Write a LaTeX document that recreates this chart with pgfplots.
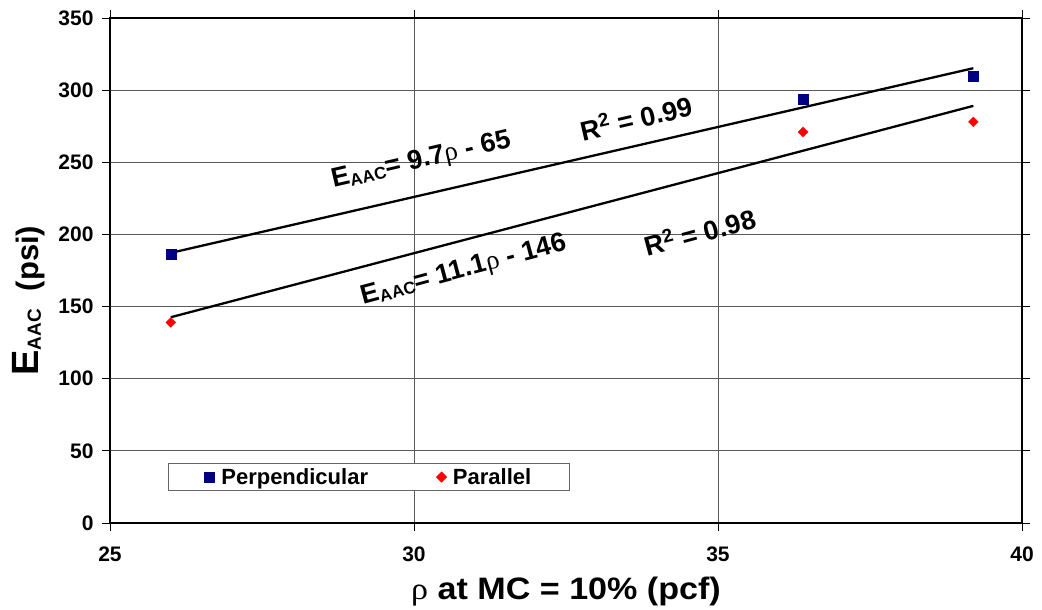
\documentclass[border=0pt]{standalone}
\usepackage{fontspec}
\setmainfont{Liberation Sans}
\newfontfamily\rhofont{Liberation Serif}
\usepackage{pgfplots}
\pgfplotsset{compat=1.18}
\definecolor{perpblue}{RGB}{0,0,128}
\definecolor{parred}{RGB}{255,0,0}
% density symbol and subscripted modulus
\newcommand{\rh}{{\rhofont\mdseries ρ}}
\newcommand{\Eaac}[1]{E\raisebox{-0.1em}{\fontsize{#1}{#1}\selectfont AAC}}
\newcommand{\tickfont}{\fontsize{21}{21}\selectfont\bfseries}

\begin{document}
\begin{tikzpicture}[x=1pt,y=1pt]
\path[use as bounding box] (-110,-87) rectangle (932,523);
\begin{axis}[
  scale only axis,
  width=912pt, height=505pt,
  xmin=25, xmax=40, ymin=0, ymax=350,
  xtick={25,30,35,40},
  ytick={0,50,...,350},
  grid=major,
  major grid style={draw=black!65, line width=0.9pt},
  axis line style={line width=2.6pt},
  tick style={black, line width=0.9pt},
  tick align=outside,
  major tick length=8pt,
  /pgf/number format/assume math mode=true,
  xticklabel={\tickfont\pgfmathprintnumber{\tick}},
  yticklabel={\tickfont\pgfmathprintnumber{\tick}},
  xticklabel style={yshift=-12pt},
  yticklabel style={xshift=-5pt},
  xlabel={\scalebox{1.1}[1]{\fontsize{31}{31}\selectfont\bfseries\rh\ at MC = 10\% (pcf)}},
  ylabel={\bfseries\fontsize{38}{38}\selectfont E\raisebox{-0.05em}{\fontsize{19}{19}\selectfont AAC}\hspace{18pt}\fontsize{31}{31}\selectfont(psi)},
  xlabel style={at={(0.5,0)}, anchor=base, yshift=-77pt},
  ylabel style={at={(0,0.44)}, anchor=center, yshift=81pt},
  legend style={
    at={(rel axis cs:0.0636,0.119)}, anchor=north west,
    draw=black!60, line width=0.9pt,
    font=\fontsize{22}{22}\selectfont\bfseries,
    legend columns=2,
    inner xsep=36pt, inner ysep=3pt,
    /tikz/every even column/.append style={column sep=66pt},
  },
  legend image code/.code={%
    \path (-5pt,0pt) (9pt,0pt);
    \draw plot coordinates {(0cm,0cm)};},
]
\addplot[only marks, mark=square*, mark size=5pt, color=perpblue]
  coordinates {(26.0,186) (36.4,294) (39.2,310)};
\addlegendentry{Perpendicular}
\addplot[only marks, mark=square*, mark size=3.5pt, mark options={rotate=45}, color=parred]
  coordinates {(26.0,139) (36.4,271) (39.2,278)};
\addlegendentry{Parallel}

% linear trendlines
\addplot[black, line width=2.3pt, forget plot]
  coordinates {(26.0,187.2) (39.2,315.2)};
\addplot[black, line width=2.3pt, forget plot]
  coordinates {(26.0,142.6) (39.2,289.1)};

\node[rotate=13, font=\fontsize{27}{27}\selectfont\bfseries]
  at (axis cs:30.12,251) {\Eaac{17}= 9.7\rh\ - 65};
\node[rotate=13, font=\fontsize{27}{27}\selectfont\bfseries]
  at (axis cs:33.65,281) {R\textsuperscript{2} = 0.99};
\node[rotate=15, font=\fontsize{27}{27}\selectfont\bfseries]
  at (axis cs:30.82,175) {\Eaac{17}= 11.1\rh\ - 146};
\node[rotate=15, font=\fontsize{27}{27}\selectfont\bfseries]
  at (axis cs:34.70,202) {R\textsuperscript{2} = 0.98};
\end{axis}
\end{tikzpicture}
\end{document}
